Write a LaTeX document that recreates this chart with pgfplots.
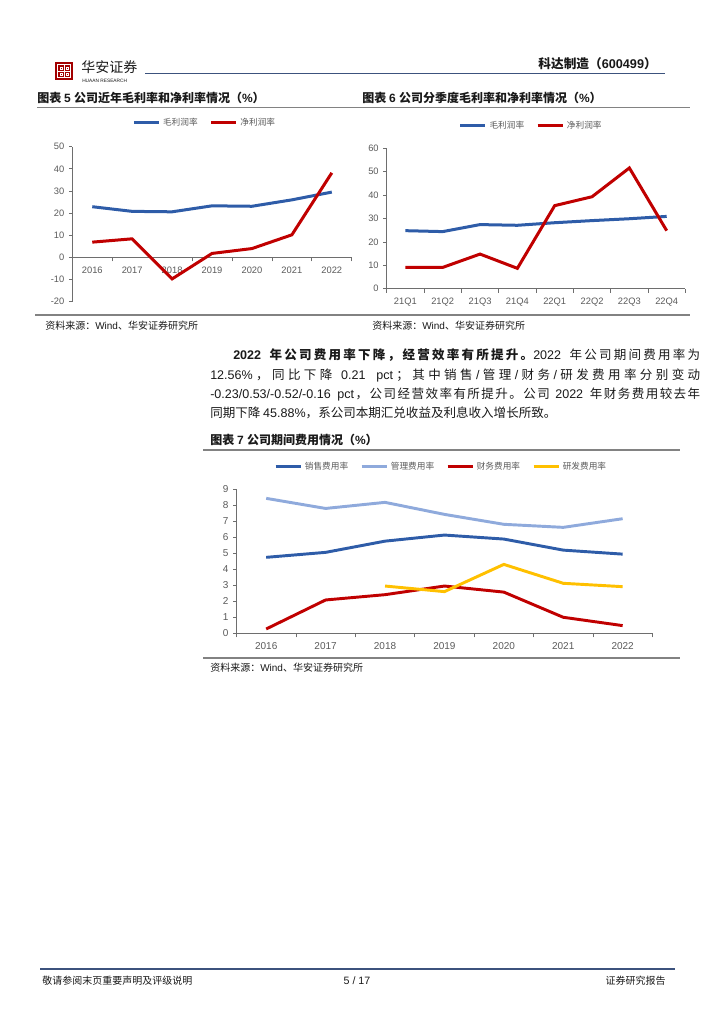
\documentclass[border=0pt]{standalone}
\usepackage{pgfplots}
\pgfplotsset{compat=1.18}
\usepackage{fontspec}
\setmainfont{Liberation Sans}
\newfontfamily\cjk{Noto Sans CJK SC}
\XeTeXinterchartokenstate=1
\newXeTeXintercharclass\CJKclass
\newcount\cc
\cc="4E00 \loop\XeTeXcharclass\cc=\CJKclass \advance\cc by 1 \ifnum\cc<"A000 \repeat
\cc="3000 \loop\XeTeXcharclass\cc=\CJKclass \advance\cc by 1 \ifnum\cc<"3040 \repeat
\cc="FF00 \loop\XeTeXcharclass\cc=\CJKclass \advance\cc by 1 \ifnum\cc<"FFF0 \repeat
\XeTeXinterchartoks 0 \CJKclass={\hskip0pt plus 0.6pt\cjk}
\XeTeXinterchartoks 4095 \CJKclass={\cjk}
\XeTeXinterchartoks \CJKclass 0={\hskip0pt plus 0.6pt\rmfamily}
\XeTeXinterchartoks 4095 0={\rmfamily}
\XeTeXinterchartoks \CJKclass \CJKclass={\hskip0pt plus 0.6pt}

\definecolor{cblue}{RGB}{46,92,168}
\definecolor{cred}{RGB}{192,0,0}
\definecolor{clblue}{RGB}{143,170,220}
\definecolor{cyellow}{RGB}{255,192,0}
\definecolor{axgray}{RGB}{110,110,110}
\definecolor{lblgray}{RGB}{90,90,90}
\definecolor{txt}{RGB}{25,25,25}
\definecolor{hdrline}{RGB}{60,82,125}
\definecolor{sepgray}{RGB}{130,130,130}

\pgfplotsset{
  rpt/.style={
    scale only axis, clip=false,
    axis line style={draw=axgray, line width=0.6pt},
    tick style={draw=axgray, line width=0.6pt},
    tick align=outside,
    major tick length=2.5pt, minor tick length=3pt,
    ticklabel style={font=\fontsize{7}{8}\selectfont, text=lblgray},
    /pgf/number format/assume math mode=true,
    major x tick style={draw=none},
    legend style={draw=none, fill=none, legend columns=-1,
      font=\fontsize{6.5}{7}\selectfont\color{lblgray},
      /tikz/every even column/.append style={column sep=7pt}},
    legend image code/.code={\draw[##1] (0cm,0cm) -- (0.66cm,0cm);},
  }
}

\begin{document}
\begin{tikzpicture}[x=0.75pt,y=-0.75pt]
\path (0,0) rectangle (724,1024);

% header
\fill[cred!85!black] (55,62) rectangle (73,80);
\draw[white, line width=0.7pt] (57.5,64.5) rectangle (70.5,77.5);
\draw[white, line width=0.7pt] (64,64.5) -- (64,77.5) (57.5,71) -- (70.5,71);
\draw[white, line width=0.5pt] (60,67) rectangle (62,69) (66,67) rectangle (68,69) (60,73) rectangle (62,75) (66,73) rectangle (68,75);
\node[anchor=west, inner sep=0pt, text=txt] at (81,67) {\fontsize{10.5}{11}\selectfont 华安证券};
\node[anchor=west, inner sep=0pt, text=txt] at (82,81) {\fontsize{3.6}{4}\selectfont HUAAN RESEARCH};
\draw[hdrline, line width=0.8pt] (145,73.3) -- (665,73.3);
\node[anchor=east, inner sep=0pt, text=txt] at (657,63.5) {\fontsize{9.5}{10}\selectfont\bfseries 科达制造（600499）};

% titles for charts 5 and 6
\node[anchor=west, inner sep=0pt, text=txt] at (37,97.5) {\fontsize{9}{10}\selectfont\bfseries 图表 5 公司近年毛利率和净利率情况（\%）};
\node[anchor=west, inner sep=0pt, text=txt] at (362,97.5) {\fontsize{9}{10}\selectfont\bfseries 图表 6 公司分季度毛利率和净利率情况（\%）};
\draw[sepgray, line width=1.2pt] (37,107.5) -- (690,107.5);

\coordinate (c1) at (72.3,301.7);
\coordinate (c2) at (386.7,288.7);
\coordinate (c3) at (236.5,633.3);

\begin{axis}[rpt, at={(c1)}, anchor=south west,
  width=209.6pt, height=116.25pt,
  xmin=-0.5, xmax=6.5, ymin=-20, ymax=50,
  axis x line*=middle, axis y line*=left,
  ytick={-20,-10,0,10,20,30,40,50},
  xtick={0,1,2,3,4,5,6},
  xticklabels={2016,2017,2018,2019,2020,2021,2022},
  minor xtick={-0.5,0.5,1.5,2.5,3.5,4.5,5.5,6.5},
  xticklabel style={yshift=-1pt},
  legend style={at={(0.475,1.155)}, anchor=center},
]
\addplot[cblue, line width=2.25pt] coordinates {(0,22.9) (1,20.8) (2,20.6) (3,23.3) (4,23.1) (5,26.0) (6,29.5)};
\addlegendentry{毛利润率}
\addplot[cred, line width=2.25pt] coordinates {(0,6.9) (1,8.4) (2,-9.7) (3,1.8) (4,4.0) (5,10.2) (6,38.2)};
\addlegendentry{净利润率}
\end{axis}

\begin{axis}[rpt, at={(c2)}, anchor=south west,
  width=224pt, height=105.3pt,
  xmin=-0.5, xmax=7.5, ymin=0, ymax=60,
  axis x line*=bottom, axis y line*=left,
  ytick={0,10,20,30,40,50,60},
  xtick={0,1,2,3,4,5,6,7},
  xticklabels={21Q1,21Q2,21Q3,21Q4,22Q1,22Q2,22Q3,22Q4},
  minor xtick={-0.5,0.5,1.5,2.5,3.5,4.5,5.5,6.5,7.5},
  xticklabel style={yshift=-1pt},
  legend style={at={(0.485,1.159)}, anchor=center},
]
\addplot[cblue, line width=2.25pt] coordinates {(0,24.8) (1,24.4) (2,27.4) (3,27.1) (4,28.2) (5,29.1) (6,29.9) (7,30.9)};
\addlegendentry{毛利润率}
\addplot[cred, line width=2.25pt] coordinates {(0,9.1) (1,9.1) (2,14.8) (3,8.7) (4,35.5) (5,39.3) (6,51.6) (7,24.8)};
\addlegendentry{净利润率}
\end{axis}

\draw[sepgray, line width=0.8pt] (35,315) -- (690,315);
\node[anchor=west, inner sep=0pt, text=txt] at (45,326) {\fontsize{7.5}{8}\selectfont 资料来源：Wind、华安证券研究所};
\node[anchor=west, inner sep=0pt, text=txt] at (372,326) {\fontsize{7.5}{8}\selectfont 资料来源：Wind、华安证券研究所};

% paragraph
\node[anchor=west, inner sep=0pt, text=txt] at (233,355) {\fontsize{9.4}{10}\selectfont\hbox to 350.25pt{{\bfseries 2022 年公司费用率下降，经营效率有所提升。}2022 年公司期间费用率为}};
\node[anchor=west, inner sep=0pt, text=txt] at (210,375) {\fontsize{9.4}{10}\selectfont\hbox to 367.5pt{12.56\%，同比下降 0.21 pct；其中销售/管理/财务/研发费用率分别变动}};
\node[anchor=west, inner sep=0pt, text=txt] at (210,394) {\fontsize{9.4}{10}\selectfont\hbox to 367.5pt{-0.23/0.53/-0.52/-0.16 pct，公司经营效率有所提升。公司 2022 年财务费用较去年}};
\node[anchor=west, inner sep=0pt, text=txt] at (210,413) {\fontsize{9.4}{10}\selectfont 同期下降 45.88\%，系公司本期汇兑收益及利息收入增长所致。};

\node[anchor=west, inner sep=0pt, text=txt] at (210,440) {\fontsize{9}{10}\selectfont\bfseries 图表 7 公司期间费用情况（\%）};
\draw[sepgray, line width=1.2pt] (203,450) -- (680,450);

\begin{axis}[rpt, at={(c3)}, anchor=south west,
  width=311.9pt, height=108.2pt,
  xmin=-0.5, xmax=6.5, ymin=0, ymax=9,
  axis x line*=bottom, axis y line*=left,
  ytick={0,1,2,3,4,5,6,7,8,9},
  xtick={0,1,2,3,4,5,6},
  xticklabels={2016,2017,2018,2019,2020,2021,2022},
  minor xtick={-0.5,0.5,1.5,2.5,3.5,4.5,5.5,6.5},
  ticklabel style={font=\fontsize{7.5}{8}\selectfont},
  xticklabel style={yshift=-1pt},
  legend style={at={(0.493,1.155)}, anchor=center},
]
\addplot[cblue, line width=2.2pt] coordinates {(0,4.74) (1,5.05) (2,5.75) (3,6.13) (4,5.88) (5,5.19) (6,4.94)};
\addlegendentry{销售费用率}
\addplot[clblue, line width=2.2pt] coordinates {(0,8.42) (1,7.79) (2,8.17) (3,7.42) (4,6.80) (5,6.61) (6,7.15)};
\addlegendentry{管理费用率}
\addplot[cred, line width=2.2pt] coordinates {(0,0.27) (1,2.08) (2,2.41) (3,2.95) (4,2.57) (5,1.00) (6,0.48)};
\addlegendentry{财务费用率}
\addplot[cyellow, line width=2.2pt] coordinates {(2,2.95) (3,2.60) (4,4.30) (5,3.12) (6,2.91)};
\addlegendentry{研发费用率}
\end{axis}

\draw[sepgray, line width=0.8pt] (203,658) -- (680,658);
\node[anchor=west, inner sep=0pt, text=txt] at (210,668) {\fontsize{7.5}{8}\selectfont 资料来源：Wind、华安证券研究所};

% footer
\draw[hdrline, line width=1.5pt] (40,969) -- (675,969);
\node[anchor=west, inner sep=0pt, text=txt] at (42,981) {\fontsize{7.5}{8}\selectfont 敬请参阅末页重要声明及评级说明};
\node[anchor=center, inner sep=0pt, text=txt] at (357,981) {\fontsize{8}{9}\selectfont 5 / 17};
\node[anchor=east, inner sep=0pt, text=txt] at (666,981) {\fontsize{7.5}{8}\selectfont 证券研究报告};
\end{tikzpicture}
\end{document}
